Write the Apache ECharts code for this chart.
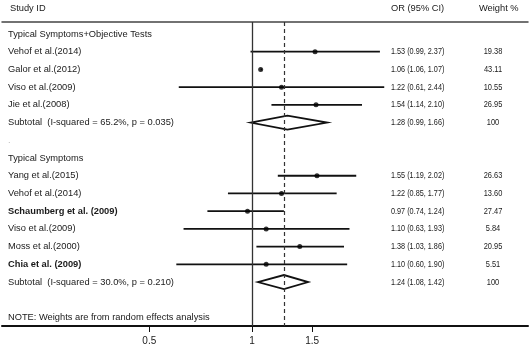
<!DOCTYPE html>
<html>
<head>
<meta charset="utf-8">
<script src="https://cdn.jsdelivr.net/npm/echarts@6/dist/echarts.min.js"></script>
<style>
html,body{margin:0;padding:0;background:#fff;}
#chart{width:529px;height:347px;}
</style>
</head>
<body>
<div id="chart"></div>
<script>
// ---- data ----
const headers = ['Study ID', 'OR (95% CI)', 'Weight %'];
const rowLabels = [
  'Typical Symptoms+Objective Tests',
  'Vehof et al.(2014)',
  'Galor et al.(2012)',
  'Viso et al.(2009)',
  'Jie et al.(2008)',
  'Subtotal  (I-squared = 65.2%, p = 0.035)',
  '.',
  'Typical Symptoms',
  'Yang et al.(2015)',
  'Vehof et al.(2014)',
  'Schaumberg et al. (2009)',
  'Viso et al.(2009)',
  'Moss et al.(2000)',
  'Chia et al. (2009)',
  'Subtotal  (I-squared = 30.0%, p = 0.210)',
  '',
  'NOTE: Weights are from random effects analysis'
];
const boldRows = [10, 13];
const orText = ['', '1.53 (0.99, 2.37)', '1.06 (1.06, 1.07)', '1.22 (0.61, 2.44)', '1.54 (1.14, 2.10)',
  '1.28 (0.99, 1.66)', '', '', '1.55 (1.19, 2.02)', '1.22 (0.85, 1.77)', '0.97 (0.74, 1.24)',
  '1.10 (0.63, 1.93)', '1.38 (1.03, 1.86)', '1.10 (0.60, 1.90)', '1.24 (1.08, 1.42)', '', ''];
const weightText = ['', '19.38', '43.11', '10.55', '26.95', '100', '', '', '26.63', '13.60', '27.47',
  '5.84', '20.95', '5.51', '100', '', ''];

const studyRow = [1, 2, 3, 4, 8, 9, 10, 11, 12, 13];
const studyOR  = [1.53, 1.06, 1.22, 1.54, 1.55, 1.22, 0.97, 1.10, 1.38, 1.10];
const studyLo  = [0.99, 1.06, 0.61, 1.14, 1.19, 0.85, 0.74, 0.63, 1.03, 0.60];
const studyHi  = [2.37, 1.07, 2.44, 2.10, 2.02, 1.77, 1.24, 1.93, 1.86, 1.90];

const subRow = [5, 14];
const subOR  = [1.27, 1.24];
const subLo  = [0.99, 1.04];
const subHi  = [1.66, 1.46];

const overallOR = 1.24;
const tickValues = [0.5, 1, 1.5];
const tickLabels = ['0.5', '1', '1.5'];

// ---- chart ----
const LN = Math.log;
const FONT = "'Liberation Sans', Arial, sans-serif";
const TXT = '#1a1a1a';
const chart = echarts.init(document.getElementById('chart'), null, {renderer: 'canvas'});

const textData = rowLabels.map((t, i) => [0, i]);

const option = {
  animation: false,
  backgroundColor: '#fff',
  grid: {left: 2, right: 1, top: 22, bottom: 21},
  xAxis: [{
    type: 'value', position: 'bottom', min: -1.687, max: 1.862,
    axisLine: {show: true, onZero: false, lineStyle: {color: '#111', width: 2}},
    axisTick: {show: true, customValues: tickValues.map(LN), length: 6, lineStyle: {color: '#111', width: 1}},
    axisLabel: {
      customValues: tickValues.map(LN), margin: 10, color: TXT, fontSize: 10, fontFamily: FONT,
      formatter: v => { const k = tickValues.findIndex(t => Math.abs(LN(t) - v) < 1e-6); return k >= 0 ? tickLabels[k] : ''; }
    },
    splitLine: {show: false}
  }, {
    type: 'value', position: 'top', min: -1.687, max: 1.862,
    axisLine: {show: true, onZero: false, lineStyle: {color: '#444', width: 1.5}},
    axisTick: {show: false}, axisLabel: {show: false}, splitLine: {show: false}
  }],
  yAxis: {type: 'value', inverse: true, min: -0.677, max: 16.48, show: false},
  series: [
    {
      type: 'custom', name: 'ci', clip: false, z: 3,
      data: studyRow.map((r, i) => [LN(studyLo[i]), LN(studyHi[i]), r]),
      renderItem: (params, api) => {
        const p1 = api.coord([api.value(0), api.value(2)]);
        const p2 = api.coord([api.value(1), api.value(2)]);
        return {type: 'line', shape: {x1: p1[0], y1: p1[1], x2: p2[0], y2: p2[1]},
          style: {stroke: '#111', lineWidth: 1.8}};
      }
    },
    {
      type: 'scatter', name: 'or', z: 4, symbol: 'circle', symbolSize: 5,
      itemStyle: {color: '#000'},
      data: studyRow.map((r, i) => [LN(studyOR[i]), r]),
      markLine: {
        silent: true, symbol: 'none', label: {show: false},
        data: [
          {xAxis: 0, lineStyle: {color: '#333', width: 1.3, type: 'solid'}},
          {xAxis: LN(overallOR), lineStyle: {color: '#333', width: 1.2, type: [4, 3]}}
        ]
      }
    },
    {
      type: 'custom', name: 'diamond', clip: false, z: 3,
      data: subRow.map((r, i) => [LN(subLo[i]), LN(subOR[i]), LN(subHi[i]), r]),
      renderItem: (params, api) => {
        const r = api.value(3);
        const l = api.coord([api.value(0), r]);
        const c = api.coord([api.value(1), r]);
        const h = api.coord([api.value(2), r]);
        const hh = 7;
        return {type: 'polygon',
          shape: {points: [[l[0], l[1]], [c[0], c[1] - hh], [h[0], h[1]], [c[0], c[1] + hh]]},
          style: {fill: 'none', stroke: '#111', lineWidth: 1.8}};
      }
    },
    {
      type: 'custom', name: 'text', clip: false, z: 5, silent: true,
      data: textData,
      renderItem: (params, api) => {
        const i = params.dataIndex;
        const y = api.coord([0, api.value(1)])[1];
        const children = [];
        const bold = boldRows.indexOf(i) >= 0;
        if (rowLabels[i]) {
          children.push({type: 'text', x: 8, y: y, style: {
            text: rowLabels[i], font: (bold ? 'bold ' : '') + '9.3px ' + FONT,
            fill: rowLabels[i] === '.' ? '#bbb' : TXT, textAlign: 'left', textVerticalAlign: 'middle'}});
        }
        if (orText[i]) {
          children.push({type: 'text', x: 391, y: y, scaleX: 0.8, style: {
            text: orText[i], font: '9.1px ' + FONT, fill: TXT, textAlign: 'left', textVerticalAlign: 'middle'}});
        }
        if (weightText[i]) {
          children.push({type: 'text', x: 493, y: y, scaleX: 0.82, style: {
            text: weightText[i], font: '9.1px ' + FONT, fill: TXT, textAlign: 'center', textVerticalAlign: 'middle'}});
        }
        return {type: 'group', children: children};
      }
    },
    {
      type: 'custom', name: 'headers', clip: false, z: 5, silent: true,
      data: [[0, -1.42]],
      renderItem: (params, api) => {
        const y = api.coord([0, api.value(1)])[1];
        const xs = [10, 391, 479];
        return {type: 'group', children: headers.map((h, k) => ({
          type: 'text', x: xs[k], y: y, style: {
            text: h, font: '9.3px ' + FONT, fill: TXT, textAlign: 'left', textVerticalAlign: 'middle'}}))};
      }
    }
  ]
};
chart.setOption(option);
</script>
</body>
</html>
